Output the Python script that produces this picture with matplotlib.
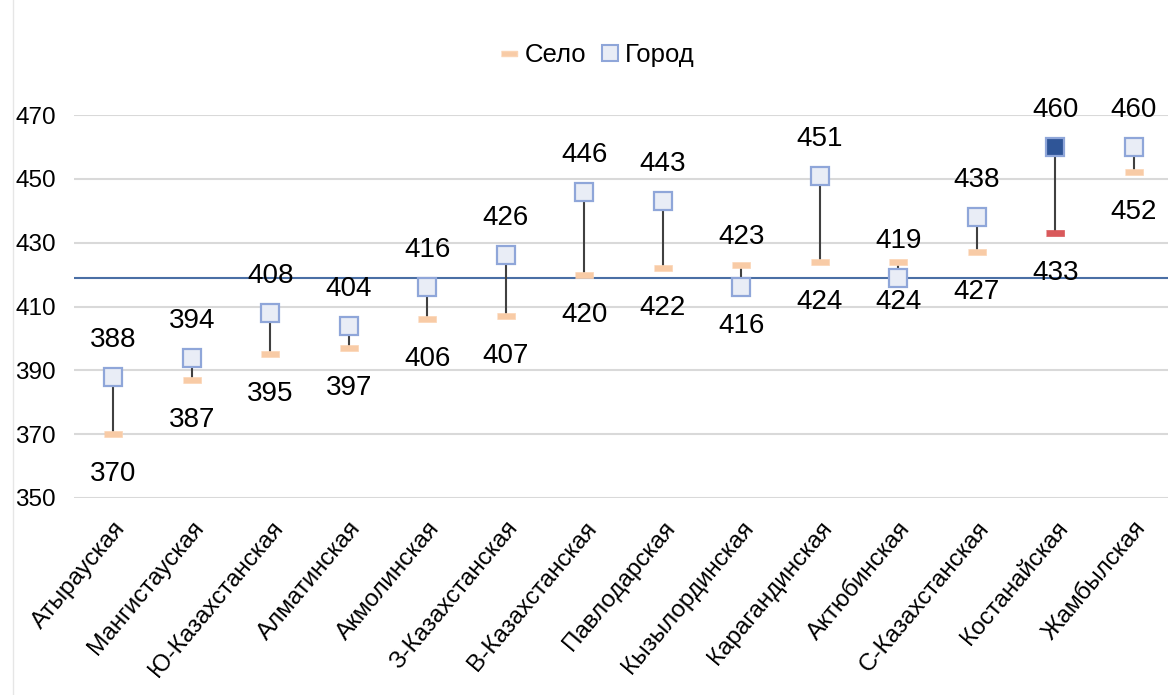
import matplotlib
matplotlib.use('Agg')
import matplotlib.pyplot as plt
from matplotlib.lines import Line2D

# Regions, sorted by village score
regions = ['Атырауская', 'Мангистауская', 'Ю-Казахстанская', 'Алматинская',
           'Акмолинская', 'З-Казахстанская', 'В-Казахстанская', 'Павлодарская',
           'Кызылординская', 'Карагандинская', 'Актюбинская', 'С-Казахстанская',
           'Костанайская', 'Жамбылская']
city    = [388, 394, 408, 404, 416, 426, 446, 443, 416, 451, 419, 438, 460, 460]
village = [370, 387, 395, 397, 406, 407, 420, 422, 423, 424, 424, 427, 433, 452]
average = 419
highlight = 'Костанайская'

y_ticks = [350, 370, 390, 410, 430, 450, 470]

plt.rcParams['font.family'] = ['Liberation Sans Narrow', 'Liberation Sans', 'DejaVu Sans']

fig = plt.figure(figsize=(11.68, 6.95), dpi=100)
ax = fig.add_axes([74/1168, 197/695, 1099/1168, 383/695])

x = list(range(len(regions)))
ax.set_xlim(-0.5, len(regions) - 0.5)
ax.set_ylim(350, 470)

for yv in y_ticks:
  ax.axhline(yv, color='#d9d9d9', linewidth=1.5, zorder=0)
ax.axhline(average, color='#4a6fa5', linewidth=1.5, zorder=1)

# village marker: flat bar
bar = [(-1, -0.3), (1, -0.3), (1, 0.3), (-1, 0.3)]

for i, name in enumerate(regions):
  hot = (name == highlight)
  ax.plot([i, i], [village[i], city[i]], color='#404040', linewidth=1.5, zorder=2)
  ax.plot(i, village[i], marker=bar, markersize=12.5,
          markerfacecolor='#d9595b' if hot else '#f8cba6',
          markeredgecolor='#d9595b' if hot else '#fbd5b5', markeredgewidth=0.5,
          linestyle='none', zorder=3)
  ax.plot(i, city[i], marker='s', markersize=12.5,
          markerfacecolor='#2f5597' if hot else '#e9edf6',
          markeredgecolor='#8fa6d9', markeredgewidth=1.6,
          linestyle='none', zorder=4)

  # city label above its marker, village label below (swapped for Кызылординская)
  if name == 'Кызылординская':
    ax.annotate(str(village[i]), (i, village[i]), xytext=(0, 28), textcoords='offset pixels',
                ha='center', va='center', fontsize=20)
    ax.annotate(str(city[i]), (i, city[i]), xytext=(0, -39), textcoords='offset pixels',
                ha='center', va='center', fontsize=20)
  else:
    ax.annotate(str(city[i]), (i, city[i]), xytext=(0, 37), textcoords='offset pixels',
                ha='center', va='center', fontsize=20)
    ax.annotate(str(village[i]), (i, village[i]), xytext=(0, -40), textcoords='offset pixels',
                ha='center', va='center', fontsize=20)

ax.set_yticks(y_ticks)
ax.set_yticklabels([str(v) for v in y_ticks], fontsize=17.5)
ax.set_xticks(x)
ax.set_xticklabels(regions, rotation=50, ha='right', rotation_mode='anchor', fontsize=17.5)
ax.tick_params(axis='x', length=0, pad=14)
ax.tick_params(axis='y', length=0, pad=13)
for s in ax.spines.values():
  s.set_visible(False)

handles = [Line2D([], [], marker=bar, markersize=12, markerfacecolor='#f8cba6',
                  markeredgecolor='#fbd5b5', linestyle='none', label='Село'),
           Line2D([], [], marker='s', markersize=11, markerfacecolor='#e9edf6',
                  markeredgecolor='#8fa6d9', markeredgewidth=1.5, linestyle='none', label='Город')]
fig.legend(handles=handles, loc='center', bbox_to_anchor=(597/1168, 1 - 55/695), ncol=2,
           frameon=False, fontsize=18.5, handlelength=0.8, handletextpad=0.2, columnspacing=0.5)

# faint chart border at the left
fig.add_artist(Line2D([13/1168, 13/1168], [0, 1], color='#e6e6e6', linewidth=1))

fig.savefig('out.png', dpi=100)
